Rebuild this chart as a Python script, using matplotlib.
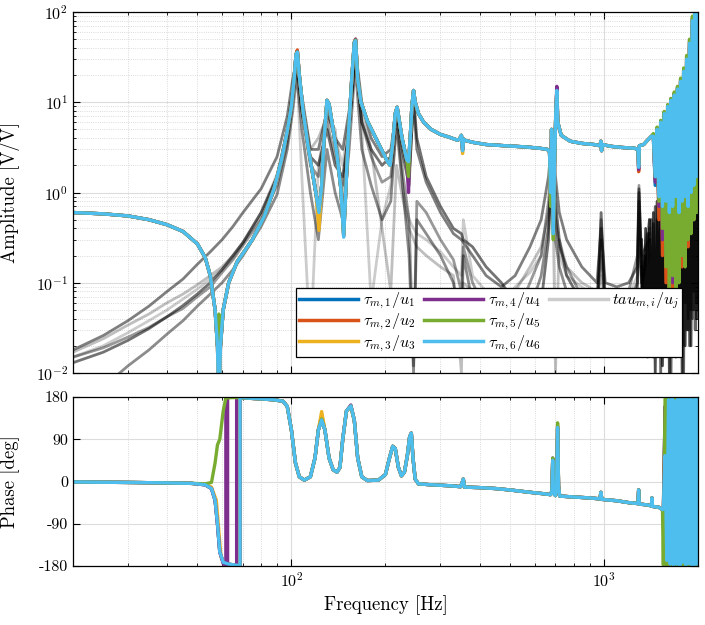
import matplotlib
matplotlib.use('Agg')
import matplotlib.pyplot as plt
from matplotlib.lines import Line2D
from matplotlib.ticker import LogLocator, LogFormatterMathtext, NullFormatter

plt.rcParams['font.family'] = ['cmr10']
plt.rcParams['mathtext.fontset'] = 'cm'
plt.rcParams['axes.unicode_minus'] = False
plt.rcParams['axes.formatter.use_mathtext'] = True

colors = ['#0072BD', '#D95319', '#EDB120', '#7E2F8E', '#77AC30', '#4DBEEE']
labels = [r'$\tau_{m,%d}/u_%d$' % (i, i) for i in range(1, 7)]

# ---- diagonal terms, amplitude (freq [Hz], |G| [V/V]) ----
amp_pts = [(20, 0.60), (25, 0.58), (30, 0.55), (35, 0.50), (40, 0.44), (45, 0.37),
           (50, 0.27), (53, 0.19), (55, 0.12), (57, 0.05), (58, 0.02), (58.6, 0.006),
           (59.3, 0.02), (60.5, 0.05), (63, 0.1), (67, 0.17), (75, 0.3), (82, 0.55),
           (88, 1.1), (93, 2.3), (97, 4.8), (100, 9), (102, 18), (103.5, 34), (104.5, 36),
           (106, 20), (109, 8), (113, 3.3), (117, 1.6), (120, 0.95), (122.5, 0.6),
           (125, 1.2), (127, 3.5), (130, 10.5), (132, 9.5), (136, 5), (140, 2.6),
           (144, 1.1), (147, 0.33), (149, 0.9), (152, 4), (156, 18), (159, 46),
           (160.5, 48), (163, 18), (167, 10), (175, 6.2), (185, 4.2), (195, 2.9),
           (203, 2.2), (207, 2.0), (211, 3.5), (215, 7.5), (218, 8.8), (221, 6.5),
           (226, 4), (231, 2.8), (234, 2.3), (237, 2.2), (240, 4), (243, 9), (246, 13.5),
           (249, 10), (255, 7.5), (265, 6), (280, 5), (300, 4.4), (320, 4.1), (340, 3.8),
           (345, 3.9), (350, 4.3), (353, 2.9), (356, 3.9), (358, 3.8), (380, 3.6),
           (420, 3.4), (480, 3.3), (560, 3.2), (620, 3.1), (660, 3.0), (670, 2.8),
           (676, 1.0), (680, 5), (685, 1.5), (689, 0.35), (695, 2), (702, 8), (707, 13.5),
           (712, 6), (730, 4.3), (780, 3.7), (850, 3.5), (930, 3.4), (972, 3.3),
           (978, 3.7), (983, 2.9), (990, 3.4), (1050, 3.25), (1150, 3.15), (1250, 3.1),
           (1285, 3.0), (1292, 1.9), (1299, 3.3), (1340, 3.4), (1380, 3.8), (1420, 4.2)]

# per-channel values at a few points where the six curves differ
amp_overrides = {58.6: [0.005, 0.005, 0.005, 0.03, 0.045, 0.004],
                 104.5: [37, 38, 35, 36, 36, 36],
                 122.5: [0.6, 0.55, 0.38, 0.65, 0.62, 0.6],
                 147: [0.33, 0.33, 0.35, 0.4, 0.35, 0.32],
                 160.5: [49, 50, 48, 50, 49, 48],
                 237: [2.2, 2.2, 2.0, 1.0, 1.5, 2.2],
                 353: [2.9, 3.0, 2.7, 3.0, 3.2, 2.9],
                 676: [1.0, 1.1, 1.0, 1.2, 0.7, 1.0],
                 689: [0.4, 0.45, 0.4, 0.5, 0.3, 0.35],
                 707: [13, 13.5, 13, 15, 13, 13.5],
                 1292: [1.9, 1.7, 2.0, 1.8, 2.0, 1.9]}

f_hf = [1440, 1460, 1480, 1500, 1520, 1540, 1560, 1580, 1600, 1620, 1640, 1660, 1680,
        1700, 1720, 1740, 1760, 1780, 1800, 1820, 1840, 1860, 1880, 1900, 1920, 1940,
        1960, 1980, 2000]
amp_hf = [
    [4.0, 1.2, 4.8, 0.6, 5.5, 0.4, 7.0, 0.5, 8.5, 0.25, 10, 0.3, 11, 0.2, 13, 0.3, 16, 0.25, 20, 0.2, 28, 0.3, 40, 0.4, 70, 0.5, 95, 0.6, 100],
    [4.1, 1.4, 4.9, 0.5, 5.8, 0.2, 7.2, 0.1, 8.8, 0.06, 10, 0.08, 12, 0.12, 13.5, 0.2, 17, 0.15, 21, 0.3, 29, 0.25, 42, 0.4, 75, 0.5, 100, 0.8, 100],
    [4.3, 1.6, 5.1, 0.8, 6.1, 0.5, 7.6, 0.4, 9.0, 0.35, 10.5, 0.2, 12.5, 0.25, 14, 0.4, 17, 0.3, 22, 0.5, 30, 0.45, 45, 0.6, 80, 0.7, 100, 0.9, 100],
    [4.4, 1.3, 5.2, 0.7, 6.2, 0.3, 7.8, 0.2, 9.3, 0.15, 11, 0.1, 12.5, 0.15, 14.5, 0.3, 18, 0.2, 23, 0.35, 32, 0.3, 48, 0.5, 85, 0.6, 100, 0.7, 100],
    [4.5, 1.5, 5.3, 0.8, 6.3, 0.4, 7.9, 0.15, 9.4, 0.08, 11, 0.12, 13, 0.07, 15, 0.1, 18.5, 0.2, 24, 0.15, 33, 0.3, 50, 0.35, 90, 0.5, 100, 0.6, 100],
    [4.2, 1.5, 5.0, 0.9, 6.0, 0.7, 7.5, 0.8, 9.0, 0.6, 10.5, 0.7, 12, 0.9, 14, 0.6, 17, 0.8, 22, 0.9, 30, 0.7, 45, 1.0, 80, 1.2, 100, 1.5, 100],
]

# ---- off-diagonal terms (grey) ----
f_gray = [20, 25, 30, 35, 40, 45, 50, 55, 60, 65,
          70, 80, 90, 97, 101, 104, 108, 115, 122, 130,
          138, 146, 153, 160, 168, 180, 195, 208, 217, 228,
          238, 246, 252, 270, 300, 330, 350, 355, 380, 420,
          470, 520, 580, 630, 665, 685, 700, 720, 760, 850,
          950, 980, 1010, 1100, 1200, 1280, 1295, 1320, 1400]
gray_a = [0.018, 0.026, 0.038, 0.055, 0.08, 0.11, 0.16, 0.22, 0.3, 0.42,
          0.6, 1.1, 2.5, 7, 18, 30, 12, 3, 3, 8,
          4, 3, 8, 40, 10, 4, 2.5, 3, 8, 3,
          1.5, 10, 3, 1.3, 0.6, 0.35, 0.3, 0.28, 0.2, 0.12,
          0.09, 0.12, 0.25, 0.5, 1.5, 5, 1.5, 0.6, 0.3, 0.15,
          0.1, 0.4, 0.1, 0.09, 0.1, 0.15, 1.0, 0.2, 0.3]
gray_b = [0.015, 0.019, 0.025, 0.032, 0.042, 0.052, 0.07, 0.09, 0.13, 0.18,
          0.26, 0.5, 1.2, 3.5, 10, 25, 8, 2, 1.5, 6,
          2.5, 1.2, 5, 35, 6, 2.5, 1.3, 1.5, 7, 1.5,
          0.5, 0.012, 0.8, 0.6, 0.3, 0.18, 0.08, 0.25, 0.1, 0.05,
          0.07, 0.04, 0.1, 0.2, 0.8, 3, 0.5, 0.25, 0.15, 0.07,
          0.05, 0.5, 0.06, 0.05, 0.08, 0.2, 1.2, 0.15, 0.5]
gray_c = [0.004, 0.007, 0.012, 0.018, 0.027, 0.038, 0.055, 0.075, 0.1, 0.14,
          0.2, 0.42, 0.95, 3, 8, 20, 5, 1, 0.3, 3,
          1, 0.5, 3, 25, 3, 1.2, 0.5, 0.8, 6, 1,
          0.2, 0.01, 0.5, 0.35, 0.2, 0.1, 0.03, 0.2, 0.06, 0.04,
          0.03, 0.06, 0.05, 0.12, 0.4, 2, 0.3, 0.15, 0.08, 0.04,
          0.03, 0.3, 0.03, 0.03, 0.05, 0.1, 0.8, 0.1, 0.4]
gray_d = [0.017, 0.024, 0.034, 0.045, 0.06, 0.075, 0.095, 0.12, 0.15, 0.2,
          0.28, 0.55, 1.5, 4, 12, 28, 10, 3, 4, 7,
          5, 0.9, 6, 38, 8, 3, 0.4, 0.08, 2, 0.8,
          0.4, 0.3, 0.25, 0.2, 0.15, 0.12, 0.01, 0.1, 0.08, 0.06,
          0.05, 0.08, 0.15, 0.25, 0.6, 2, 0.01, 0.3, 0.15, 0.1,
          0.08, 0.2, 0.07, 0.06, 0.06, 0.1, 0.6, 0.1, 0.2]
gray_e = [0.015, 0.02, 0.028, 0.038, 0.05, 0.066, 0.085, 0.11, 0.14, 0.19,
          0.27, 0.6, 1.6, 4.5, 12, 25, 1.5, 0.02, 2, 7,
          4, 2, 7, 40, 5, 0.06, 0.5, 1.2, 5, 1,
          0.5, 0.4, 0.35, 0.3, 0.22, 0.15, 0.12, 0.5, 0.12, 0.08,
          0.06, 0.09, 0.13, 0.2, 0.5, 1.5, 0.6, 0.2, 0.12, 0.09,
          0.07, 0.12, 0.06, 0.05, 0.07, 0.12, 0.3, 0.12, 0.25]
gray_f = [0.013, 0.017, 0.023, 0.031, 0.042, 0.056, 0.075, 0.1, 0.14, 0.2,
          0.28, 0.6, 1.5, 5, 14, 30, 8, 2.5, 2, 5,
          2, 1.5, 5, 30, 6, 3, 2, 2.5, 8, 2.5,
          1.2, 12, 4, 1.5, 0.7, 0.4, 0.35, 0.3, 0.25, 0.15,
          0.1, 0.06, 0.03, 0.06, 0.3, 4, 0.8, 0.3, 0.12, 0.06,
          0.04, 0.6, 0.05, 0.04, 0.05, 0.08, 1.1, 0.08, 0.35]
gray_curves = [gray_a, gray_b, gray_c, gray_d, gray_e, gray_f]
gray_alpha = [0.5, 0.4, 0.45, 0.25, 0.2, 0.55]

f_gray_hf = [1320, 1340, 1360, 1380, 1400, 1420, 1440, 1460, 1480, 1500,
             1520, 1540, 1560, 1580, 1600, 1620, 1640, 1660, 1680, 1700,
             1720, 1740, 1760, 1780, 1800, 1820, 1840, 1860, 1880, 1900,
             1920, 1940, 1960, 1980, 2000]
gray_hf_1 = [0.3, 0.02, 0.4, 0.015, 0.5, 0.03, 0.6, 0.01, 0.8, 0.02,
             1.0, 0.012, 1.2, 0.03, 1.5, 0.01, 2.0, 0.02, 2.5, 0.015,
             3, 0.03, 3.5, 0.01, 4, 0.02, 5, 0.03, 6, 0.02,
             8, 0.05, 10, 0.04, 12]
gray_hf_2 = [0.15, 0.05, 0.2, 0.03, 0.3, 0.06, 0.45, 0.02, 0.5, 0.04,
             0.7, 0.03, 0.9, 0.05, 1.1, 0.02, 1.4, 0.04, 1.8, 0.03,
             2.2, 0.05, 2.8, 0.02, 3.3, 0.06, 4, 0.04, 5, 0.05,
             6, 0.08, 7, 0.06, 9]
gray_hf_3 = [0.05, 0.2, 0.02, 0.35, 0.04, 0.5, 0.015, 0.7, 0.03, 0.9,
             0.01, 1.2, 0.02, 1.6, 0.04, 2.0, 0.01, 2.4, 0.03, 3.0,
             0.02, 3.6, 0.05, 4.5, 0.01, 5.5, 0.03, 7, 0.02, 8,
             0.04, 10, 0.03, 12, 0.05]

# ---- diagonal terms, phase [deg] ----
phase_low_a = [(20, -1), (30, -2), (40, -3), (48, -4), (53, -7), (55.5, -15), (57, -40),
               (58, -90), (59, -150), (60.5, -172), (63, -176), (66, -178), (68.5, -179),
               (68.5, 179), (75, 177)]
phase_low_3 = [(20, -1), (30, -2), (40, -3), (48, -4), (53, -6), (55.5, -12), (57.5, -40),
               (58.5, -100), (59.5, -160), (61, -174), (63, -177), (66, -179), (68, -179),
               (68, 179), (75, 177)]
phase_low_4 = [(20, -1), (30, -2), (40, -3), (48, -4), (53, -7), (55.5, -15), (57, -40),
               (58, -90), (59, -150), (60.5, -175), (61.7, -179), (61.7, 179), (62.5, 179),
               (62.5, -179), (66.8, -179), (66.8, 179), (75, 177)]
phase_low_5 = [(20, -1), (30, -2), (40, -3), (48, -4), (53, -5), (55.5, -2), (57, 40),
               (58, 78), (59, 90), (60.5, 150), (61.7, 178), (66, 179), (69, 178), (75, 177)]
phase_low = [phase_low_a, phase_low_a, phase_low_3, phase_low_4, phase_low_5, phase_low_a]

phase_mid = [(80, 176), (88, 174), (94, 171), (97, 160), (100, 110), (103, 40), (106, 10),
             (110, 3), (115, 10), (119, 50), (122, 110), (125, 131), (128, 110), (132, 50),
             (136, 25), (140, 20), (143, 30), (146, 90), (150, 150), (155, 161), (159, 130),
             (163, 50), (168, 10), (175, 2), (190, 3), (200, 15), (206, 50), (211, 75),
             (215, 70), (220, 30), (225, 12), (230, 20), (235, 55), (239, 95), (242, 103),
             (245, 50), (249, 5), (255, -5), (280, -7), (320, -9), (348, -11), (352, -2),
             (355, 5), (358, -12), (400, -13), (450, -15), (500, -18), (580, -23), (640, -26),
             (675, -28), (682, -20), (686, 45), (690, -25), (700, -30), (706, -10), (711, 115),
             (716, -10), (722, -31), (800, -33), (900, -35), (972, -37), (978, -23), (985, -38),
             (1100, -41), (1200, -45), (1285, -47), (1292, -18), (1298, -48), (1380, -50),
             (1420, -52), (1425, -35), (1430, -53), (1500, -55), (1540, -60)]
phase_overrides = {125: [131, 140, 149, 131, 133, 131],
                   155: [161, 161, 158, 163, 161, 161],
                   686: [45, 48, 46, 50, 50, 45],
                   711: [115, 118, 110, 112, 125, 115]}

f_phase_hf = [1550, 1570, 1590, 1610, 1630, 1650, 1670, 1690, 1710, 1730, 1750, 1770,
              1790, 1810, 1830, 1850, 1870, 1890, 1910, 1930, 1950, 1970, 1990, 2000]
phase_hf = [
    [-62, 150, -170, 172, -178, 176, -175, 179, -172, 177, -179, 174, -176, 178, -173, 179, -177, 175, -179, 176, -174, 178, -177, 170],
    [-65, 120, -178, 170, -176, 179, -179, 174, -177, 178, -175, 179, -178, 173, -179, 176, -174, 178, -176, 179, -178, 174, -179, 172],
    [-60, 140, -172, 178, -179, 173, -176, 178, -179, 175, -177, 179, -174, 176, -178, 177, -179, 173, -177, 178, -175, 179, -178, 171],
    [-70, 160, -179, 176, -173, 178, -178, 177, -175, 179, -176, 177, -179, 175, -177, 178, -176, 179, -173, 177, -179, 176, -175, 173],
    [-178, 178, -180, 179, -177, 180, -179, 178, -180, 179, -178, 180, -177, 179, -180, 178, -179, 180, -178, 179, -180, 178, -179, 177],
    [-58, 55, -168, 174, -176, 178, -178, 172, -176, 178, -179, 175, -172, 178, -178, 176, -175, 179, -178, 174, -177, 178, -176, 170],
]

fig = plt.figure(figsize=(7.05, 6.25), dpi=100)
ax1 = fig.add_axes([0.1035, 0.4032, 0.8865, 0.5776])
ax2 = fig.add_axes([0.1035, 0.0944, 0.8865, 0.2704], sharex=ax1)

# grey off-diagonal curves
for g, al in zip(gray_curves, gray_alpha):
    ax1.plot(f_gray, g, color='k', alpha=al, lw=2)
ax1.plot(f_gray_hf, gray_hf_1, color='k', alpha=0.7, lw=2)
ax1.plot(f_gray_hf, gray_hf_2, color='k', alpha=0.6, lw=2)
ax1.plot(f_gray_hf, gray_hf_3, color='k', alpha=0.6, lw=2)

f_amp = [p[0] for p in amp_pts]
f_ph = [p[0] for p in phase_mid]
for i in range(6):
    a = [p[1] for p in amp_pts]
    for fk, vals in amp_overrides.items():
        a[f_amp.index(fk)] = vals[i]
    ax1.plot(f_amp + f_hf, a + amp_hf[i], color=colors[i], lw=2.4)

    ph = [p[1] for p in phase_mid]
    for fk, vals in phase_overrides.items():
        ph[f_ph.index(fk)] = vals[i]
    fl = [p[0] for p in phase_low[i]]
    pl = [p[1] for p in phase_low[i]]
    ax2.plot(fl + f_ph + f_phase_hf, pl + ph + phase_hf[i], color=colors[i], lw=2.4)

# axes setup
for ax in (ax1, ax2):
    ax.set_xscale('log')
    ax.set_xlim(20, 2000)
    ax.tick_params(which='both', direction='in', top=True, right=True, labelsize=11.5)
    ax.tick_params(which='major', length=5)
    ax.tick_params(which='minor', length=2.5)
    ax.grid(True, which='major', color='#dcdcdc', lw=0.8, ls='-')
    ax.grid(True, which='minor', axis='x', color='#cfcfcf', lw=0.6, ls=':')
    ax.set_axisbelow(True)
    for s in ax.spines.values():
        s.set_linewidth(0.9)

ax1.set_yscale('log')
ax1.set_ylim(1e-2, 1e2)
ax1.yaxis.set_major_formatter(LogFormatterMathtext())
ax1.yaxis.set_minor_locator(LogLocator(base=10, subs=range(2, 10)))
ax1.yaxis.set_minor_formatter(NullFormatter())
ax1.grid(True, which='minor', axis='y', color='#cfcfcf', lw=0.6, ls=':')
ax1.set_ylabel('Amplitude [V/V]', fontsize=13.5)
plt.setp(ax1.get_xticklabels(), visible=False)

ax2.set_ylim(-180, 180)
ax2.set_yticks([-180, -90, 0, 90, 180])
ax2.set_yticklabels(['-180', '-90', '0', '90', '180'])
ax2.xaxis.set_major_formatter(LogFormatterMathtext())
ax2.xaxis.set_minor_formatter(NullFormatter())
ax2.set_ylabel('Phase [deg]', fontsize=13.5)
ax2.set_xlabel('Frequency [Hz]', fontsize=13.5)
ax1.yaxis.set_label_coords(-0.085, 0.5)
ax2.yaxis.set_label_coords(-0.085, 0.5)

# legend: three columns, grey entry alone in the last column
handles = [Line2D([], [], color=c, lw=2.5) for c in colors]
handles += [Line2D([], [], color='k', alpha=0.2, lw=2.5),
            Line2D([], [], color='none'), Line2D([], [], color='none')]
leg_labels = labels + [r'$tau_{m,i}/u_j$', ' ', ' ']
leg = ax1.legend(handles, leg_labels, ncol=3, loc='lower right',
                 bbox_to_anchor=(0.975, 0.045), borderaxespad=0, fontsize=11.5,
                 handlelength=3.7, handletextpad=0.3, columnspacing=0.5,
                 labelspacing=0.05, borderpad=0.2, fancybox=False, framealpha=1)
leg.get_frame().set_edgecolor('k')
leg.get_frame().set_linewidth(0.9)

fig.savefig('out.png', dpi=100)
